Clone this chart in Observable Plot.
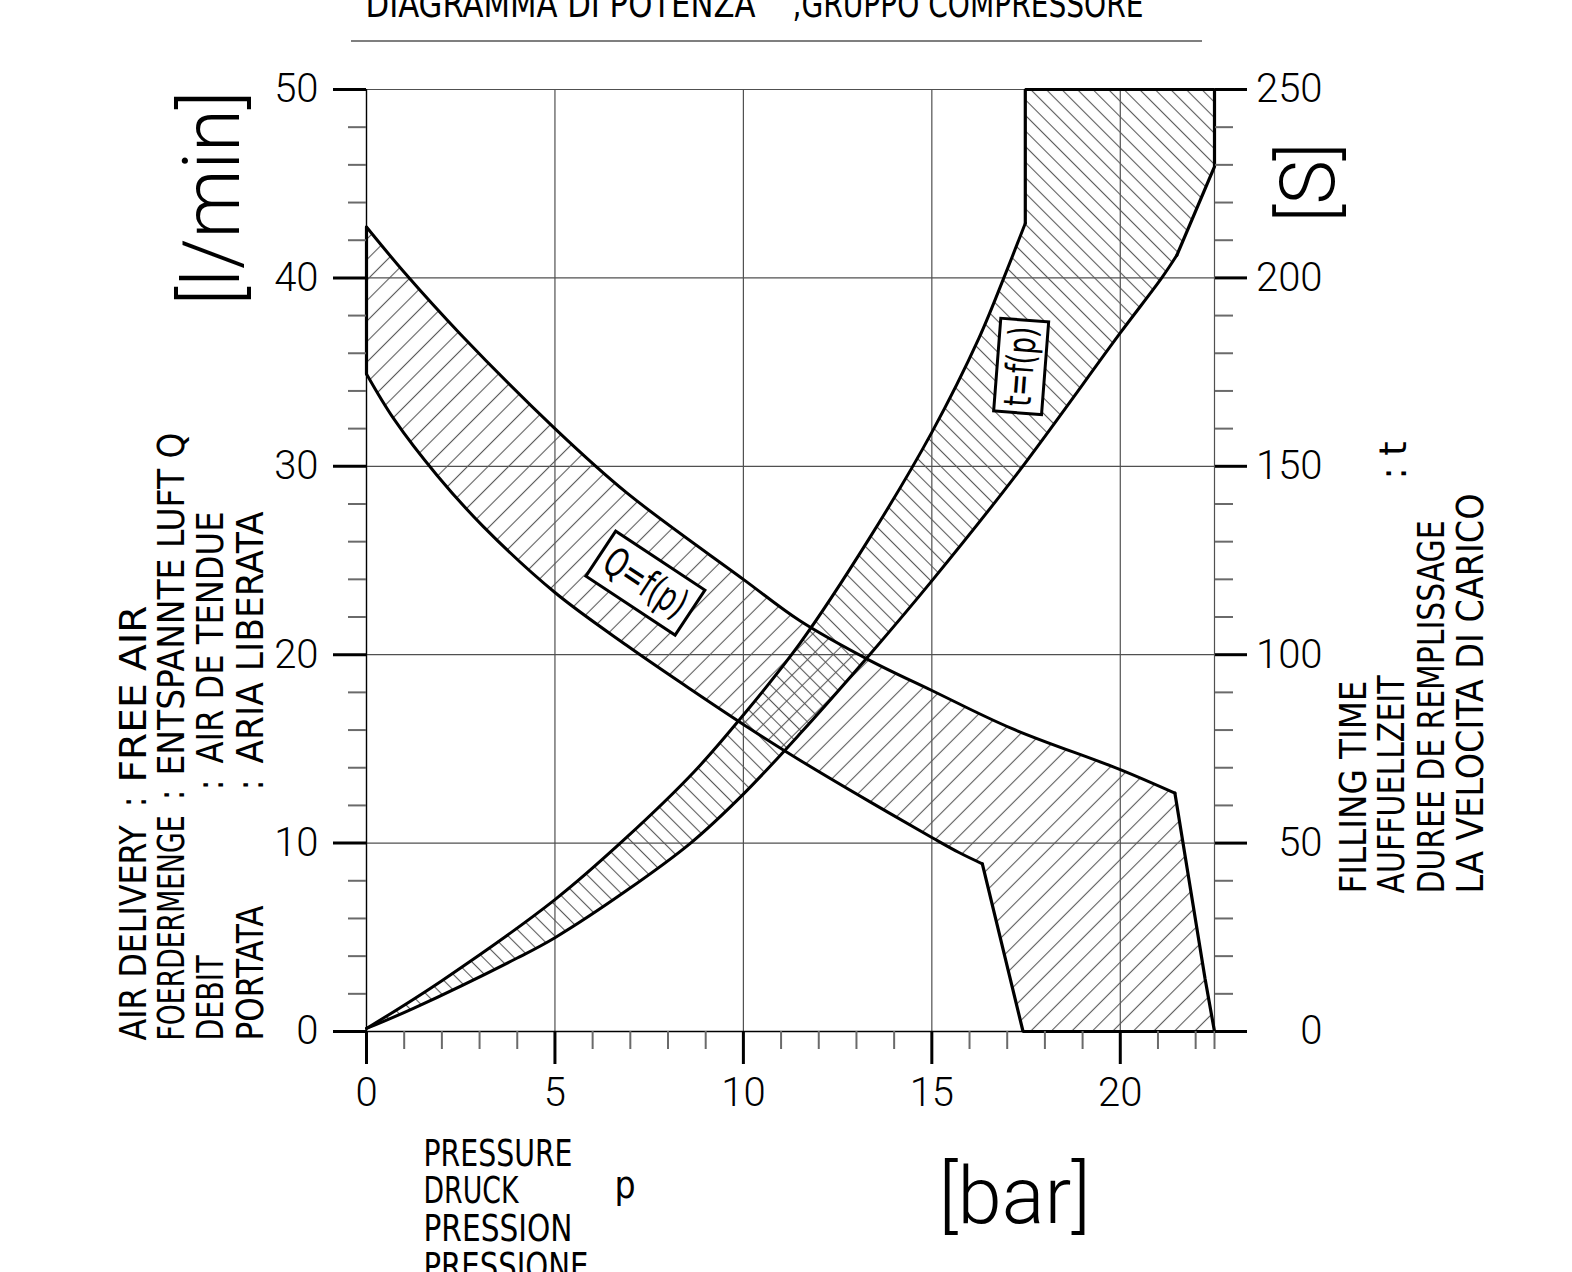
<!DOCTYPE html>
<html><head><meta charset="utf-8">
<script src="https://cdn.jsdelivr.net/npm/d3@7"></script>
<script src="https://cdn.jsdelivr.net/npm/@observablehq/plot@0.6"></script>
<style>
html,body{margin:0;padding:0;background:#fff;}
#chart{width:1572px;height:1272px;overflow:hidden;}
</style></head><body><div id="chart"></div>
<script>
// ---------- data ----------
const pressureTicks = [0, 5, 10, 15, 20];
const pressureGrid = [0, 5, 10, 15, 20, 22.5];
const pressureMinor = [1,2,3,4,6,7,8,9,11,12,13,14,16,17,18,19,21,22,22.5];
const flowTicks = [0, 10, 20, 30, 40, 50];
const flowMinor = [2,4,6,8,12,14,16,18,22,24,26,28,32,34,36,38,42,44,46,48];
const timeTicks = [0, 50, 100, 150, 200, 250];
const timeMinor = [10,20,30,40,60,70,80,90,110,120,130,140,160,170,180,190,210,220,230,240];

// air delivery Q band (l/min)
const qUpperP = [0, 1, 2.5, 5, 6.9, 10, 11.5, 13.35, 15, 17.1, 20, 21.45];
const qUpperQ = [42.7, 40.3, 37.0, 32.0, 28.6, 24.0, 21.8, 19.7, 18.1, 16.1, 13.9, 12.65];
const qRightP = [21.45, 22.25, 22.5];
const qRightQ = [12.65, 2.8, 0];
const qFootP = [22.5, 17.42, 16.34];
const qFootQ = [0, 0, 8.9];
const qLowerP = [0, 0.73, 1.88, 3.1, 5, 6.9, 8.5, 10, 11.5, 13.35, 15, 15.72, 16.34];
const qLowerQ = [34.9, 32.5, 29.5, 26.8, 23.3, 20.5, 18.3, 16.3, 14.4, 12.2, 10.3, 9.5, 8.9];
const qLeftP = [0, 0];
const qLeftQ = [34.9, 42.7];

// filling time t band (s)
const tUpperP = [0, 2, 5, 6.9, 8.7, 10, 11.5, 13.35, 15, 16.25, 16.95, 17.48];
const tUpperT = [0.8, 13.5, 35, 51.5, 69, 84, 103, 131, 159, 184, 201, 214.5];
const tLowerP = [0, 1.26, 4, 5, 6.9, 8.6, 10, 11.5, 13.35, 15, 17.26, 20, 21.1, 21.5];
const tLowerT = [0.8, 6.2, 19.5, 24.9, 37.4, 50, 63, 79, 100, 119.6, 148, 185.4, 200, 206];
const tEdgeP = [21.5, 22.5, 22.5, 17.48, 17.48];
const tEdgeT = [206, 229.5, 250, 250, 214.5];

const qLabel = {p: 7.4, q: 23.8, text: "Q=f(p)", angle: 33.5};
const tLabel = {p: 17.37, t: 176.5, text: "t=f(p)", angle: -85.6};

// ---------- helpers ----------
const T_PER_Q = 5; // right axis: 250 s on the 50 l/min span
const pts = (P, V, k = 1, id = "") => P.map((p, i) => ({p, v: V[i] / k, id}));

const qPoly = [
  ...pts(qUpperP, qUpperQ),
  ...pts(qRightP, qRightQ).slice(1),
  ...pts(qFootP, qFootQ).slice(1),
  ...pts(qLowerP, qLowerQ).reverse().slice(1),
];
qPoly.push(qPoly[0]);
const tPoly = [
  ...pts(tLowerP, tLowerT, T_PER_Q),
  ...pts(tEdgeP, tEdgeT, T_PER_Q).slice(1),
  ...pts(tUpperP, tUpperT, T_PER_Q).reverse().slice(1),
];
tPoly.push(tPoly[0]);

const smooth = [
  ...pts(qUpperP, qUpperQ, 1, "qu"), ...pts(qLowerP, qLowerQ, 1, "ql"),
  ...pts(tUpperP, tUpperT, T_PER_Q, "tu"), ...pts(tLowerP, tLowerT, T_PER_Q, "tl"),
];
const straight = [
  ...pts(qRightP, qRightQ, 1, "qr"), ...pts(qFootP, qFootQ, 1, "qf"), ...pts(qLeftP, qLeftQ, 1, "qlf"),
  ...pts(tEdgeP, tEdgeT, T_PER_Q, "te"),
];

const W = 1572, H = 1272, ML = 366, MR = W - 1214, MT = 89, MB = H - 1031;
const CAPS = "'Liberation Sans Narrow','DejaVu Sans Condensed','DejaVu Sans',sans-serif";
const NUM = "Roboto,'Open Sans',sans-serif";
const THIN = "Roboto,Lato,sans-serif";

function lab(text, px, py, o = {}) {
  return Plot.text([text], {
    text: d => d, frameAnchor: "top-left", dx: px - ML, dy: py - MT,
    lineAnchor: "bottom", textAnchor: "start", fontFamily: CAPS, fontSize: 37, fill: "#000", ...o
  });
}

const numStyle = {fontFamily: NUM, fontSize: 40, fontWeight: 300, label: null};

const chart = Plot.plot({
  width: W, height: H,
  marginLeft: ML, marginRight: MR, marginTop: MT, marginBottom: MB,
  x: {domain: [0, 22.5]},
  y: {domain: [0, 50]},
  style: {background: "#fff", color: "#000", overflow: "visible"},
  marks: [
    Plot.gridX(pressureGrid, {stroke: "#505050", strokeOpacity: 1, strokeWidth: 1.2}),
    Plot.gridY(flowTicks, {stroke: "#505050", strokeOpacity: 1, strokeWidth: 1.2}),
    Plot.ruleX([0], {stroke: "#000", strokeWidth: 1.3}),
    Plot.ruleY([0], {stroke: "#000", strokeWidth: 1.3}),
    // hatched bands
    Plot.line(qPoly, {x: "p", y: "v", fill: "url(#hatchQ)", stroke: "none", curve: "linear"}),
    Plot.line(tPoly, {x: "p", y: "v", fill: "url(#hatchT)", stroke: "none", curve: "linear"}),
    Plot.line(smooth, {x: "p", y: "v", z: "id", stroke: "#000", strokeWidth: 3, curve: "catmull-rom"}),
    Plot.line(straight, {x: "p", y: "v", z: "id", stroke: "#000", strokeWidth: 3.2, curve: "linear", strokeLinejoin: "miter"}),
    // boxed curve labels
    Plot.text([qLabel], {x: "p", y: "q", text: "text", rotate: qLabel.angle, fontFamily: CAPS, fontSize: 40, lineAnchor: "middle"}),
    Plot.text([tLabel], {x: "p", y: d => d.t / T_PER_Q, text: "text", rotate: tLabel.angle, fontFamily: CAPS, fontSize: 38, lineAnchor: "middle"}),
    // axes: left (l/min)
    Plot.axisY(flowMinor, {anchor: "left", tickSize: 18, tickFormat: () => "", stroke: "#6a6a6a", strokeWidth: 2, label: null}),
    Plot.axisY(flowTicks, {anchor: "left", tickSize: 33, tickPadding: 15, strokeWidth: 3, ...numStyle}),
    // bottom (bar)
    Plot.axisX(pressureMinor, {anchor: "bottom", tickSize: 18, tickFormat: () => "", stroke: "#6a6a6a", strokeWidth: 2, label: null}),
    Plot.axisX(pressureTicks, {anchor: "bottom", tickSize: 33, tickPadding: 13, strokeWidth: 3, ...numStyle}),
    // right (s)
    Plot.axisY(timeMinor.map(t => t / T_PER_Q), {anchor: "right", tickSize: 18, tickFormat: () => "", stroke: "#6a6a6a", strokeWidth: 2, label: null}),
    Plot.axisY(timeTicks.map(t => t / T_PER_Q), {anchor: "right", tickSize: 32, tickPadding: 76, textAnchor: "end", strokeWidth: 3, tickFormat: d => String(Math.round(d * T_PER_Q)), ...numStyle}),
    // title
    lab("DIAGRAMMA DI POTENZA", 365, 16),
    lab(",GRUPPO COMPRESSORE", 792, 16),
    // left label block
    lab("AIR DELIVERY", 145, 1040, {rotate: -90}),
    lab(":", 145, 807, {rotate: -90}),
    lab("FREE AIR", 145, 782, {rotate: -90}),
    lab("FOERDERMENGE", 183, 1040, {rotate: -90}),
    lab(":", 183, 800, {rotate: -90}),
    lab("ENTSPANNTE LUFT Q", 183, 775, {rotate: -90}),
    lab("DEBIT", 222, 1040, {rotate: -90}),
    lab(":", 222, 790, {rotate: -90}),
    lab("AIR DE TENDUE", 222, 763, {rotate: -90}),
    lab("PORTATA", 262, 1040, {rotate: -90}),
    lab(":", 262, 790, {rotate: -90}),
    lab("ARIA LIBERATA", 262, 763, {rotate: -90}),
    lab("[l/min]", 238, 305, {rotate: -90, fontFamily: THIN, fontWeight: 300, fontSize: 80}),
    // right label block
    lab("[S]", 1333, 222, {rotate: -90, fontFamily: THIN, fontWeight: 300, fontSize: 76}),
    lab("FILLING TIME", 1365, 893, {rotate: -90}),
    lab("AUFFUELLZEIT", 1403, 893, {rotate: -90}),
    lab(": t", 1405, 479, {rotate: -90}),
    lab("DUREE DE REMPLISSAGE", 1443, 893, {rotate: -90}),
    lab("LA VELOCITA DI CARICO", 1482, 893, {rotate: -90}),
    // bottom label block
    lab("PRESSURE", 423, 1165),
    lab("DRUCK", 423, 1202),
    lab("p", 614, 1197),
    lab("PRESSION", 423, 1240),
    lab("PRESSIONE", 423, 1278),
    lab("[bar]", 938, 1222, {fontFamily: THIN, fontWeight: 300, fontSize: 80}),
  ]
});

document.getElementById("chart").appendChild(chart);
const svg = d3.select(chart);

// hatch patterns
const defs = svg.insert("defs", ":first-child");
function hatch(id, size, angle) {
  const p = defs.append("pattern").attr("id", id).attr("patternUnits", "userSpaceOnUse")
    .attr("width", size).attr("height", size).attr("patternTransform", `rotate(${angle})`);
  p.append("line").attr("x1", size / 2).attr("x2", size / 2).attr("y1", -1).attr("y2", size + 1)
    .attr("stroke", "#5a5a5a").attr("stroke-width", 1.1);
}
hatch("hatchQ", 14.5, 45);
hatch("hatchT", 11, -45);

// title rule
svg.append("line").attr("x1", 351).attr("x2", 1202).attr("y1", 41).attr("y2", 41)
  .attr("stroke", "#555").attr("stroke-width", 1.4);

// fit text lengths to the drawing
const lengths = {
  "DIAGRAMMA DI POTENZA": 390, ",GRUPPO COMPRESSORE": 351,
  "AIR DELIVERY": 215, "FREE AIR": 177, "FOERDERMENGE": 225, "ENTSPANNTE LUFT Q": 343,
  "DEBIT": 85, "AIR DE TENDUE": 252, "PORTATA": 135, "ARIA LIBERATA": 252,
  "FILLING TIME": 213, "AUFFUELLZEIT": 218, "DUREE DE REMPLISSAGE": 373, "LA VELOCITA DI CARICO": 400,
  ": t": 38, "PRESSURE": 149, "DRUCK": 95, "PRESSION": 149, "PRESSIONE": 165,
  "[l/min]": 215, "[bar]": 152, "[S]": 80, "Q=f(p)": 92, "t=f(p)": 80
};
svg.selectAll("text").each(function () {
  const t = this.textContent;
  if (lengths[t]) {
    this.setAttribute("textLength", lengths[t]);
    this.setAttribute("lengthAdjust", "spacingAndGlyphs");
  }
});

// boxes round the curve labels
const boxes = {"Q=f(p)": [107, 54], "t=f(p)": [93, 48]};
svg.selectAll("text").each(function () {
  const b = boxes[this.textContent];
  if (!b) return;
  d3.select(this.parentNode).insert("rect", () => this)
    .attr("x", -b[0] / 2).attr("y", -b[1] / 2).attr("width", b[0]).attr("height", b[1])
    .attr("transform", this.getAttribute("transform"))
    .attr("fill", "#fff").attr("stroke", "#000").attr("stroke-width", 3);
});
</script>
</body></html>
